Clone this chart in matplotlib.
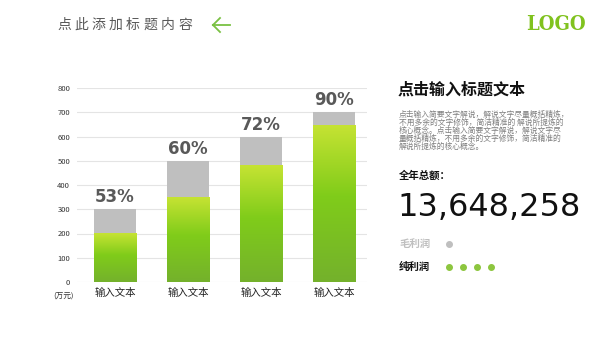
import numpy as np
import matplotlib.pyplot as plt
from matplotlib.lines import Line2D
from matplotlib.colors import LinearSegmentedColormap

plt.rcParams['font.family'] = ['Noto Sans CJK SC', 'DejaVu Sans']

# data
categories = ["输入文本", "输入文本", "输入文本", "输入文本"]
totals = [300, 500, 600, 700]        # gross (grey)
net = [200, 350, 480, 645]           # net (green)
pct_labels = ["53%", "60%", "72%", "90%"]
y_ticks = [0, 100, 200, 300, 400, 500, 600, 700, 800]

title = "点此添加标题内容"
side_title = "点击输入标题文本"
body_lines = ["点击输入简要文字解说，解说文字尽量概括精炼，",
              "不用多余的文字修饰，简洁精准的 解说所提炼的",
              "核心概念。点击输入简要文字解说，解说文字尽",
              "量概括精炼，不用多余的文字修饰，简洁精准的",
              "解说所提炼的核心概念。"]
total_label = "全年总额："
total_value = "13,648,258"

W, H = 600, 338
fig = plt.figure(figsize=(6, 3.38), dpi=100)
fig.patch.set_facecolor("white")

def fx(px):
    return px / W

def fy(py):
    return 1 - py / H

# chart axes
ax = fig.add_axes([fx(77), fy(282), fx(367) - fx(77), fy(88) - fy(282)])
ax.set_yticks(y_ticks)
ax.tick_params(axis='y', length=0, labelsize=5.5, labelcolor="#333333", pad=5)
ax.tick_params(axis='x', length=0, labelsize=7.5, labelcolor="#222222", pad=4)
ax.set_xticks(range(len(categories)))
ax.set_xticklabels(categories)
ax.grid(axis='y', color="#e4e4e4", linewidth=0.8)
ax.set_axisbelow(True)
for s in ax.spines.values():
    s.set_visible(False)

cmap = LinearSegmentedColormap.from_list(
    "grn", [(0.0, "#74b12c"), (0.55, "#80cc1a"), (1.0, "#c6e333")])
grad = np.linspace(0, 1, 256).reshape(-1, 1)
bw = 0.58
x = np.arange(len(categories))
ax.bar(x, totals, width=bw, color="#bfbfbf", zorder=2)
green_bars = ax.bar(x, net, width=bw, color="none", zorder=3)
for b in green_bars:
    x0, w, h = b.get_x(), b.get_width(), b.get_height()
    ax.imshow(grad, cmap=cmap, origin='lower', aspect='auto',
              extent=[x0, x0 + w, 0, h], zorder=3)
ax.set_xlim(-0.52, 3.45)
ax.set_ylim(0, 800)
for xi, t, lab in zip(x, totals, pct_labels):
    ax.text(xi, t + 12, lab, ha='center', va='bottom', fontsize=12,
            fontweight='bold', color="#595959", family=['DejaVu Sans'])

fig.text(fx(64), fy(297), "(万元)", fontsize=5.5, color="#333333",
         ha='center', va='center')

# header
for i, ch in enumerate(title):
    fig.text(fx(57 + i * 17.3), fy(25), ch, fontsize=10, color="#595959",
             ha='left', va='center')
arrow_col = "#7ac143"
fig.add_artist(Line2D([fx(213), fx(230)], [fy(25), fy(25)], color=arrow_col, lw=1.3))
fig.add_artist(Line2D([fx(213), fx(220)], [fy(25), fy(18)], color=arrow_col, lw=1.3))
fig.add_artist(Line2D([fx(213), fx(220)], [fy(25), fy(32)], color=arrow_col, lw=1.3))

fig.text(fx(556), fy(23.5), "LOGO", fontsize=14.5, fontweight='heavy', color="#80c21e",
         ha='center', va='center', family=['DejaVu Serif'], fontstretch='condensed')

# side panel
fig.text(fx(398), fy(90), side_title, fontsize=11.5, fontweight='bold',
         color="#111111", ha='left', va='center')
for i, line in enumerate(body_lines):
    fig.text(fx(399), fy(115 + i * 8), line, fontsize=5.6, color="#7f7f7f",
             ha='left', va='center')
fig.text(fx(399), fy(176), total_label, fontsize=7.5, fontweight='bold',
         color="#111111", ha='left', va='center')
fig.text(fx(397), fy(207), total_value, fontsize=23, color="#111111",
         ha='left', va='center', family=['DejaVu Sans'])

fig.text(fx(399), fy(244), "毛利润", fontsize=7.5, fontweight='bold',
         color="#bfbfbf", ha='left', va='center')
fig.text(fx(399), fy(267), "纯利润", fontsize=7.5, fontweight='bold',
         color="#111111", ha='left', va='center')
dots = fig.add_axes([0, 0, 1, 1])
dots.set_xlim(0, W)
dots.set_ylim(H, 0)
dots.axis('off')
dots.scatter([449], [244], s=16, color="#bfbfbf")
dots.scatter([449, 463, 477, 491], [267] * 4, s=16, color="#8dc63f")

fig.savefig("out.png", dpi=100, facecolor="white")
